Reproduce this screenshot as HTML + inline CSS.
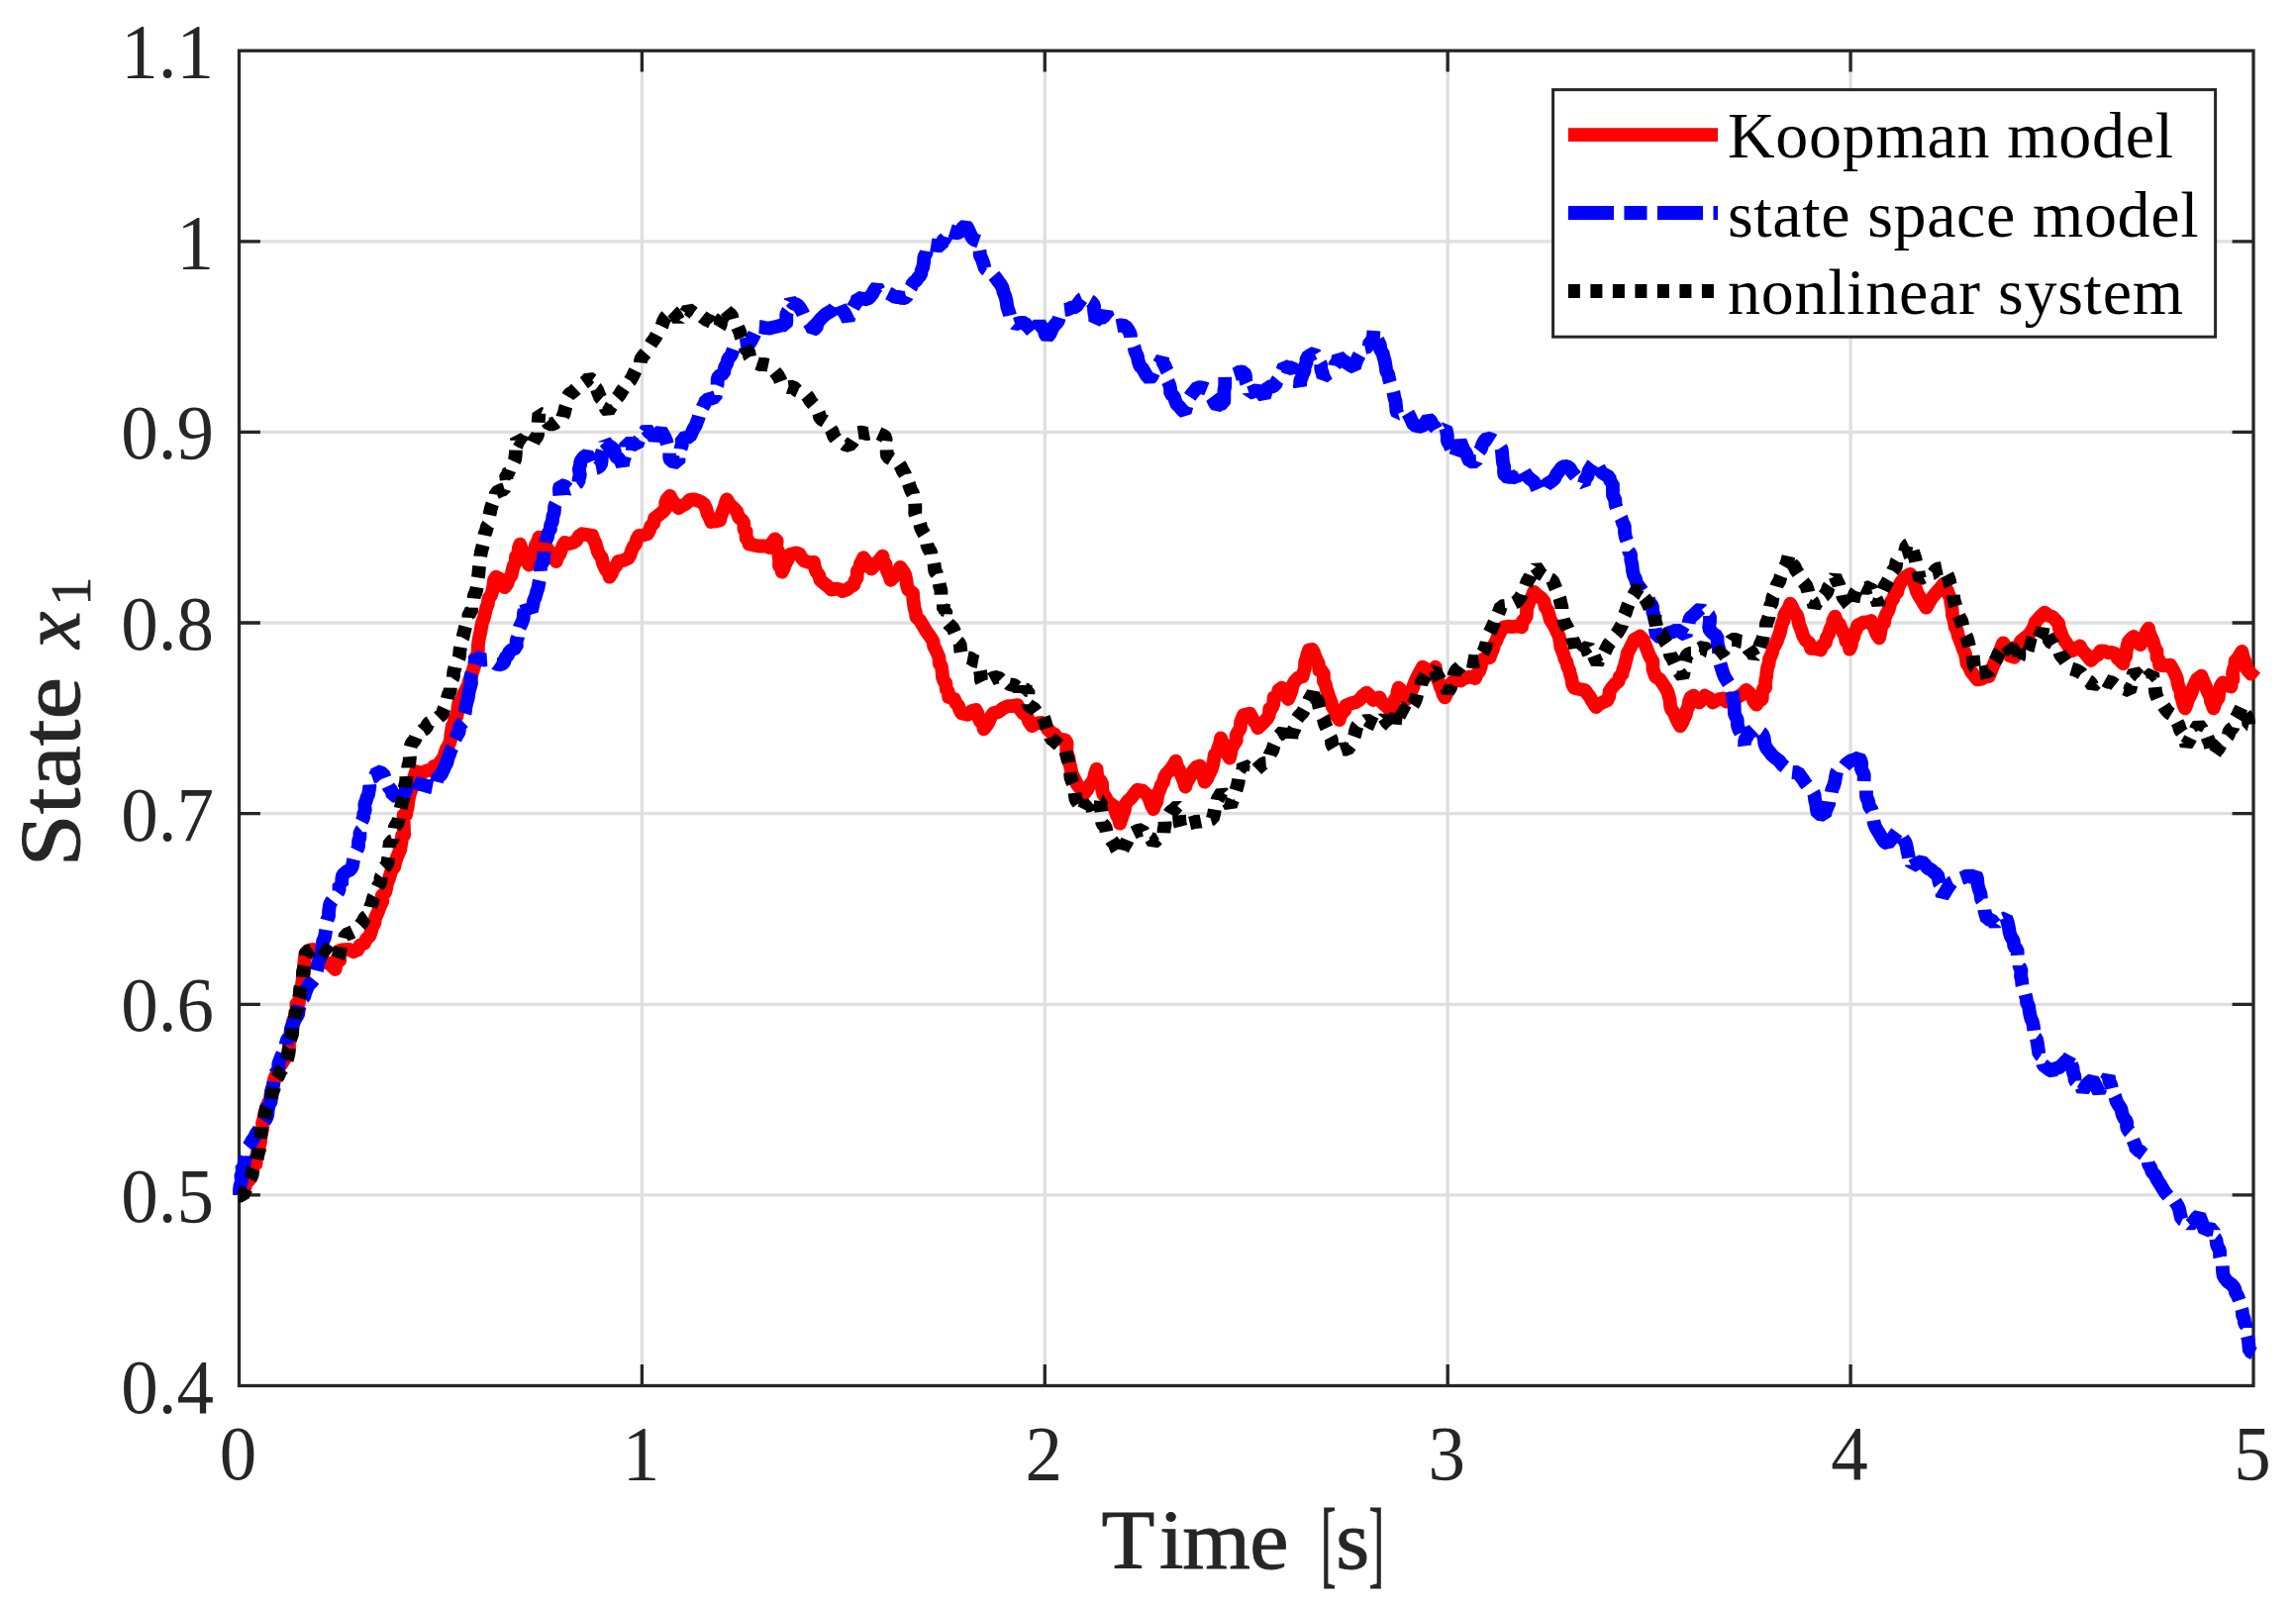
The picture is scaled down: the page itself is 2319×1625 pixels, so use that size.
<!DOCTYPE html>
<html lang="en"><head><meta charset="utf-8"><title>State x1 comparison</title>
<style>html,body{margin:0;padding:0;background:#fff}body{width:2319px;height:1625px;overflow:hidden}svg{display:block}
text{font-family:"Liberation Serif","DejaVu Serif",serif;fill:#262626}
.tk{font-size:75px}
.lg{font-size:66px;fill:#000}
.lb{font-size:84px}
</style></head><body>
<svg width="2319" height="1625" viewBox="0 0 2319 1625">
<rect width="2319" height="1625" fill="#fff"/>
<path d="M648.4 51.2 V1399.5 M1055.3 51.2 V1399.5 M1462.2 51.2 V1399.5 M1869.1 51.2 V1399.5 M241.5 243.8 H2276.0 M241.5 436.4 H2276.0 M241.5 629.0 H2276.0 M241.5 821.7 H2276.0 M241.5 1014.3 H2276.0 M241.5 1206.9 H2276.0" stroke="#dfdfdf" stroke-width="3.3" fill="none"/>
<path d="M648.4 1399.5 v-21.4 M648.4 51.2 v21.4 M1055.3 1399.5 v-21.4 M1055.3 51.2 v21.4 M1462.2 1399.5 v-21.4 M1462.2 51.2 v21.4 M1869.1 1399.5 v-21.4 M1869.1 51.2 v21.4 M241.5 243.8 h21.4 M2276.0 243.8 h-21.4 M241.5 436.4 h21.4 M2276.0 436.4 h-21.4 M241.5 629.0 h21.4 M2276.0 629.0 h-21.4 M241.5 821.7 h21.4 M2276.0 821.7 h-21.4 M241.5 1014.3 h21.4 M2276.0 1014.3 h-21.4 M241.5 1206.9 h21.4 M2276.0 1206.9 h-21.4" stroke="#262626" stroke-width="3.3" fill="none"/>
<rect x="241.5" y="51.2" width="2034.5" height="1348.3" fill="none" stroke="#262626" stroke-width="3.3"/>
<path d="M242.0 1207.0 L244.4 1203.0 L247.3 1199.6 L248.8 1194.5 L252.0 1191.5 L254.0 1187.0 L255.1 1182.1 L256.3 1177.5 L258.5 1175.6 L258.9 1168.8 L260.0 1164.0 L260.8 1159.9 L262.0 1156.9 L263.0 1153.3 L263.2 1148.0 L264.0 1144.0 L265.1 1140.3 L265.1 1134.1 L266.2 1130.4 L267.0 1125.9 L268.0 1122.0 L269.4 1117.4 L271.3 1113.3 L274.0 1110.0 L273.9 1103.1 L275.4 1099.7 L276.2 1094.8 L277.0 1090.0 L278.6 1086.1 L280.5 1082.5 L281.6 1078.2 L284.0 1075.0 L286.3 1071.3 L288.8 1067.8 L291.0 1064.0 L292.0 1060.2 L291.9 1053.7 L293.0 1050.0 L293.8 1045.3 L294.0 1039.1 L295.8 1036.8 L295.9 1030.5 L298.0 1029.0 L298.1 1023.1 L300.2 1022.0 L299.4 1013.9 L301.7 1013.3 L302.3 1008.6 L303.0 1004.0 L303.6 999.1 L304.7 995.5 L305.5 991.1 L306.0 986.0 L307.1 982.4 L307.1 976.1 L307.5 970.9 L308.1 966.1 L309.0 962.0 L312.3 959.6 L316.0 959.0 L319.0 962.2 L322.3 965.0 L324.6 969.5 L328.0 972.0 L332.1 972.8 L335.4 975.8 L338.7 979.0 L339.5 973.9 L340.1 968.5 L343.3 969.8 L342.4 960.3 L344.8 959.5 L348.9 959.2 L353.0 959.0 L357.1 961.2 L361.2 959.5 L363.5 954.6 L367.8 952.9 L370.1 948.2 L373.5 945.0 L375.0 940.5 L376.2 935.9 L378.4 931.9 L379.1 926.9 L381.1 922.8 L382.7 918.4 L384.3 914.2 L386.4 910.3 L385.8 904.6 L389.1 901.5 L390.2 896.9 L390.9 892.2 L392.7 888.0 L394.0 883.6 L395.5 879.1 L398.2 875.5 L399.3 870.6 L400.8 866.1 L402.6 861.8 L404.4 857.5 L405.0 853.1 L405.7 848.9 L406.1 843.9 L408.2 843.2 L407.9 836.6 L407.7 829.9 L407.6 823.5 L410.1 823.0 L410.8 818.5 L411.8 814.7 L412.3 809.5 L413.1 805.3 L414.2 800.8 L415.6 797.0 L417.1 793.5 L417.6 787.3 L418.8 783.1 L420.1 779.2 L425.4 780.6 L430.5 778.6 L435.7 777.5 L438.4 773.8 L442.6 773.0 L445.1 768.9 L447.9 765.3 L449.4 760.7 L450.9 756.2 L453.3 752.4 L454.9 747.9 L455.3 742.6 L456.1 737.9 L456.8 733.3 L458.3 730.5 L459.5 725.3 L461.6 722.9 L462.3 716.4 L463.2 710.5 L465.3 707.9 L467.3 704.1 L468.8 699.8 L470.9 696.0 L472.8 692.1 L473.9 687.5 L475.7 683.5 L477.1 679.0 L478.5 674.5 L480.0 670.0 L480.1 664.1 L481.7 661.6 L482.8 657.8 L482.9 651.9 L483.5 647.1 L484.4 642.3 L485.5 637.7 L486.2 632.6 L487.3 628.0 L488.7 624.5 L489.9 619.4 L491.1 614.3 L492.7 610.3 L493.5 604.3 L495.7 601.8 L497.2 597.5 L498.3 592.3 L499.0 586.0 L500.9 582.7 L504.7 584.7 L506.7 589.6 L509.6 593.1 L512.4 589.6 L513.9 584.7 L516.6 581.0 L517.6 575.9 L518.8 571.3 L520.6 568.4 L521.1 561.9 L523.3 559.8 L523.9 553.7 L525.3 549.6 L526.6 554.1 L528.8 558.0 L530.6 562.1 L532.9 565.8 L534.0 570.5 L535.2 566.3 L536.8 562.5 L538.8 558.8 L540.1 554.7 L541.1 550.4 L543.1 546.8 L544.4 542.7 L546.5 546.7 L549.4 549.6 L552.0 552.9 L554.5 556.4 L556.5 560.5 L559.1 563.8 L561.8 567.0 L563.1 562.8 L565.5 559.5 L566.8 555.3 L568.4 551.4 L570.5 547.9 L574.9 549.1 L579.2 547.9 L582.4 545.6 L584.7 541.6 L587.9 539.2 L593.1 540.1 L598.3 540.9 L599.5 544.9 L601.4 548.4 L602.6 552.4 L603.6 556.5 L605.3 560.1 L607.8 563.1 L608.6 567.8 L610.2 571.7 L612.0 575.4 L614.6 578.4 L615.7 582.7 L618.0 578.9 L619.7 574.4 L622.5 571.2 L624.4 567.0 L629.7 565.9 L634.9 563.6 L636.7 559.9 L638.0 555.7 L639.8 552.0 L642.2 548.8 L643.2 544.3 L645.3 540.9 L649.7 540.5 L654.0 539.2 L656.0 535.5 L657.4 531.2 L660.3 528.4 L661.0 523.5 L665.4 520.1 L669.7 516.6 L672.4 513.5 L672.2 507.9 L673.8 503.9 L676.6 500.9 L679.1 505.5 L682.1 509.4 L685.3 513.1 L689.1 510.7 L693.1 508.7 L696.6 504.9 L701.0 504.4 L704.6 505.6 L708.2 506.9 L711.4 509.6 L713.3 513.9 L714.5 518.6 L716.6 522.7 L718.4 527.0 L722.8 526.5 L727.1 525.3 L728.2 520.9 L729.7 516.8 L731.4 512.8 L732.6 508.5 L734.1 504.4 L737.1 509.5 L741.0 513.1 L744.3 516.7 L746.0 522.3 L749.7 525.3 L751.3 528.1 L751.5 534.8 L753.6 536.5 L753.6 543.6 L755.5 545.7 L756.7 549.6 L761.3 550.6 L765.9 551.5 L770.6 551.4 L774.2 551.6 L777.6 553.1 L779.8 548.2 L782.8 544.4 L784.7 546.1 L783.9 554.2 L785.7 556.1 L786.5 560.3 L787.1 565.2 L787.0 571.8 L789.7 571.5 L789.7 577.7 L791.8 573.4 L793.6 568.7 L796.0 564.6 L797.8 560.0 L804.2 558.3 L807.5 559.7 L809.7 563.4 L812.3 566.4 L817.1 568.0 L822.0 568.0 L822.9 573.0 L824.5 577.4 L827.3 581.1 L828.5 585.8 L832.2 589.1 L836.1 592.2 L839.8 595.5 L843.7 594.7 L847.4 595.1 L851.1 597.1 L855.1 595.6 L858.7 593.0 L862.4 590.7 L863.6 586.3 L865.6 583.9 L865.8 576.8 L867.9 574.6 L868.9 569.7 L870.5 566.5 L872.1 563.2 L874.8 566.9 L877.3 571.0 L880.2 574.5 L883.1 571.4 L886.0 568.2 L888.8 565.0 L891.5 561.6 L891.9 566.2 L894.3 569.6 L895.1 574.0 L896.6 577.9 L898.4 581.7 L899.6 585.8 L902.3 583.1 L904.1 578.8 L907.3 576.8 L909.3 572.9 L913.0 578.0 L914.5 581.4 L915.4 586.1 L916.1 591.5 L917.3 595.5 L922.0 599.0 L922.3 604.7 L922.9 609.6 L923.6 614.4 L924.8 618.0 L925.4 623.0 L929.0 626.5 L931.9 631.1 L934.5 635.8 L937.4 640.0 L940.4 644.2 L942.5 647.9 L943.2 652.7 L945.2 656.4 L946.9 660.4 L948.4 663.8 L948.8 670.1 L950.7 672.5 L951.6 677.7 L952.0 683.8 L953.3 687.9 L955.3 689.9 L955.7 696.0 L957.6 698.2 L958.2 704.0 L964.0 706.0 L965.4 709.9 L967.9 712.8 L969.2 716.7 L971.1 720.2 L977.6 721.8 L981.2 718.1 L985.6 716.9 L987.4 720.6 L988.4 725.0 L990.2 728.7 L992.9 731.7 L993.7 736.3 L996.5 732.8 L998.9 728.7 L1000.8 724.0 L1003.4 720.2 L1008.6 719.0 L1013.1 715.3 L1017.8 713.2 L1022.8 713.1 L1027.6 712.1 L1030.4 716.6 L1033.6 720.5 L1037.3 723.4 L1039.2 728.8 L1042.2 733.1 L1046.9 730.5 L1051.9 729.9 L1055.8 731.9 L1058.2 736.6 L1061.6 739.6 L1065.3 741.8 L1068.0 746.0 L1072.1 746.7 L1076.1 747.6 L1077.6 750.5 L1077.2 757.8 L1078.2 761.9 L1079.4 765.4 L1079.9 770.1 L1081.0 773.5 L1081.8 777.6 L1082.6 781.6 L1085.1 786.3 L1087.4 791.3 L1090.0 794.8 L1092.7 797.9 L1095.5 801.0 L1097.9 798.0 L1099.7 794.3 L1102.0 791.3 L1104.8 787.1 L1105.9 781.7 L1107.6 776.7 L1108.1 782.7 L1109.2 786.8 L1111.4 788.2 L1113.0 791.4 L1113.3 797.7 L1114.3 802.0 L1116.7 805.1 L1118.1 809.0 L1121.3 811.5 L1124.6 813.9 L1126.3 818.3 L1127.8 822.8 L1130.0 826.8 L1131.1 831.7 L1132.7 827.1 L1134.1 822.5 L1135.9 818.1 L1136.4 812.8 L1139.1 809.0 L1142.6 805.8 L1145.7 801.7 L1148.8 797.7 L1154.0 798.6 L1158.5 802.6 L1160.5 805.9 L1161.7 809.9 L1163.1 813.7 L1165.0 817.1 L1166.3 813.2 L1168.2 809.8 L1168.9 805.5 L1169.6 801.3 L1171.4 797.7 L1172.7 793.4 L1175.0 789.9 L1176.0 785.4 L1177.9 781.6 L1180.7 778.9 L1183.2 775.8 L1185.4 772.3 L1187.6 768.7 L1188.7 773.4 L1190.9 777.2 L1192.5 781.6 L1194.3 785.7 L1196.0 790.0 L1197.3 794.5 L1198.6 789.8 L1201.1 786.2 L1202.9 781.9 L1205.4 778.3 L1208.2 774.8 L1211.8 773.5 L1213.0 777.7 L1214.0 782.2 L1215.6 785.2 L1216.7 789.7 L1219.3 786.3 L1221.2 782.0 L1223.2 778.0 L1224.8 773.5 L1225.9 768.1 L1226.8 762.3 L1229.2 760.2 L1230.4 755.2 L1232.0 751.1 L1233.0 745.5 L1234.6 749.7 L1236.0 754.1 L1238.5 757.4 L1239.9 761.9 L1242.0 765.6 L1243.1 760.8 L1243.9 755.8 L1246.3 751.8 L1248.7 747.9 L1248.7 742.3 L1251.0 738.3 L1252.7 735.6 L1253.1 729.4 L1254.5 725.7 L1255.9 722.2 L1262.3 720.6 L1264.3 724.2 L1266.3 728.0 L1268.8 731.0 L1270.4 735.1 L1273.7 732.0 L1277.0 728.9 L1280.1 725.4 L1281.8 722.3 L1282.3 716.0 L1284.7 714.8 L1286.2 711.1 L1286.6 704.4 L1290.2 702.7 L1291.4 697.1 L1294.6 694.7 L1296.7 698.6 L1299.7 701.3 L1301.1 706.0 L1302.9 701.7 L1304.6 697.3 L1305.4 692.3 L1307.6 688.3 L1311.2 684.5 L1315.6 683.4 L1316.7 679.1 L1317.9 675.1 L1318.2 668.9 L1319.4 665.0 L1320.5 660.8 L1322.0 656.6 L1325.3 655.9 L1327.2 659.3 L1328.5 663.3 L1330.1 666.9 L1331.8 670.5 L1332.4 676.9 L1335.0 677.6 L1336.9 680.5 L1337.0 688.3 L1338.8 691.2 L1339.9 696.3 L1341.4 700.6 L1342.8 705.0 L1344.5 709.1 L1345.7 713.6 L1348.0 717.3 L1349.8 722.7 L1352.8 727.0 L1353.7 722.7 L1356.0 719.7 L1358.6 716.9 L1359.3 712.5 L1364.1 710.5 L1369.0 709.3 L1373.1 706.8 L1376.5 702.8 L1380.3 699.6 L1383.8 703.0 L1387.0 707.0 L1393.2 704.4 L1395.3 708.6 L1398.2 711.5 L1401.3 714.1 L1403.7 716.9 L1406.0 720.0 L1407.5 716.9 L1407.6 709.9 L1408.9 706.4 L1410.8 704.3 L1411.5 699.0 L1412.6 694.7 L1415.7 697.8 L1417.8 702.5 L1420.7 706.0 L1422.8 702.1 L1425.3 698.5 L1427.1 694.4 L1428.7 689.9 L1430.6 685.7 L1432.5 681.6 L1434.7 677.7 L1436.8 673.7 L1440.0 675.7 L1443.0 678.0 L1446.7 677.1 L1449.7 673.7 L1450.2 680.5 L1451.5 685.1 L1453.2 688.7 L1454.6 693.1 L1456.3 696.8 L1457.4 701.0 L1459.4 704.4 L1461.3 700.2 L1463.6 696.5 L1464.7 691.6 L1467.5 688.3 L1471.2 686.8 L1475.2 687.5 L1478.8 685.0 L1482.6 684.0 L1486.3 683.5 L1490.1 685.0 L1491.6 681.1 L1494.1 677.9 L1495.6 673.9 L1496.4 669.3 L1498.2 665.6 L1504.7 664.0 L1506.1 659.6 L1507.9 655.6 L1509.1 651.1 L1511.2 647.2 L1512.8 643.0 L1514.8 639.6 L1516.5 635.7 L1519.2 633.3 L1523.7 632.7 L1528.1 633.0 L1532.5 632.4 L1537.0 633.3 L1537.8 627.4 L1540.0 625.4 L1541.8 622.2 L1542.1 614.9 L1543.5 610.7 L1545.2 606.2 L1547.5 602.3 L1549.1 597.8 L1552.7 600.9 L1556.4 603.7 L1559.6 607.5 L1560.5 612.5 L1563.1 616.3 L1564.5 620.9 L1565.7 625.7 L1568.2 629.6 L1570.6 633.7 L1572.6 638.3 L1574.7 642.6 L1575.6 647.9 L1576.3 653.5 L1577.8 657.0 L1579.2 660.8 L1580.4 665.3 L1582.4 668.8 L1583.2 673.2 L1585.0 676.8 L1586.0 681.1 L1587.4 685.5 L1588.2 691.4 L1590.0 694.7 L1595.4 696.0 L1600.8 697.0 L1603.1 700.3 L1605.6 703.4 L1607.6 707.2 L1609.8 710.7 L1612.1 714.0 L1615.6 710.9 L1619.5 709.0 L1623.4 707.2 L1625.3 703.3 L1625.6 698.3 L1627.9 694.7 L1631.1 691.0 L1634.7 687.9 L1635.7 683.7 L1638.5 680.9 L1639.3 676.6 L1640.7 673.1 L1641.8 668.7 L1642.9 664.3 L1643.8 659.6 L1646.2 655.2 L1648.5 650.7 L1650.6 646.0 L1656.3 642.6 L1659.8 646.3 L1661.9 651.7 L1663.7 656.3 L1665.4 661.0 L1667.6 665.3 L1669.4 668.1 L1669.4 675.4 L1670.7 679.7 L1672.1 683.4 L1676.6 686.3 L1680.0 691.3 L1682.5 695.1 L1684.6 699.3 L1685.6 703.2 L1686.6 707.2 L1687.0 712.5 L1688.0 716.3 L1690.8 719.9 L1692.6 724.6 L1694.7 729.1 L1697.0 733.2 L1699.2 729.8 L1700.8 725.7 L1702.7 721.9 L1703.7 717.1 L1705.3 713.7 L1706.1 708.3 L1707.6 704.3 L1710.6 702.7 L1713.1 706.7 L1716.3 709.5 L1719.0 705.9 L1721.9 702.7 L1726.3 705.1 L1729.9 709.5 L1733.2 707.4 L1736.7 706.1 L1740.3 705.5 L1743.4 708.3 L1747.7 705.2 L1752.5 706.1 L1755.8 703.5 L1759.3 701.5 L1763.8 697.0 L1766.9 699.9 L1769.5 703.8 L1771.4 708.1 L1774.0 711.7 L1776.5 708.3 L1779.7 706.1 L1779.9 700.0 L1780.9 695.9 L1783.1 694.5 L1783.1 687.9 L1784.0 683.7 L1784.5 678.7 L1785.2 674.0 L1786.5 671.0 L1787.1 665.4 L1788.7 662.3 L1790.1 658.8 L1791.0 654.0 L1793.2 650.8 L1794.9 647.1 L1796.2 643.1 L1797.8 639.3 L1798.8 634.0 L1800.1 629.2 L1801.8 625.8 L1802.3 620.9 L1804.5 617.4 L1806.8 613.9 L1808.2 609.7 L1810.4 613.6 L1812.1 617.9 L1814.9 621.2 L1816.3 625.8 L1817.1 631.0 L1818.6 634.3 L1819.9 638.0 L1821.1 642.0 L1823.6 646.5 L1827.4 649.4 L1829.2 654.9 L1834.1 655.1 L1838.9 656.5 L1840.5 652.1 L1843.8 649.3 L1844.9 644.3 L1847.0 640.4 L1848.4 635.8 L1850.7 631.8 L1851.4 626.7 L1853.5 622.6 L1854.9 627.3 L1857.8 630.3 L1859.5 634.6 L1861.5 638.7 L1863.6 642.6 L1864.4 647.5 L1867.5 650.7 L1868.1 655.7 L1869.8 651.9 L1870.4 647.4 L1872.2 643.6 L1873.0 639.2 L1875.0 635.6 L1876.2 631.5 L1879.4 630.1 L1882.6 628.3 L1886.4 628.2 L1890.0 627.0 L1891.9 631.5 L1893.7 636.0 L1895.5 640.5 L1898.0 644.4 L1899.0 639.9 L1899.8 634.8 L1901.0 630.7 L1903.1 629.1 L1903.8 623.7 L1905.2 620.2 L1907.3 616.7 L1908.5 612.5 L1909.6 608.2 L1912.1 605.0 L1913.3 600.8 L1916.2 598.1 L1917.3 593.4 L1919.0 589.4 L1921.4 586.2 L1925.2 582.3 L1929.5 579.8 L1930.7 584.3 L1933.0 588.0 L1934.5 592.3 L1935.7 596.8 L1937.6 600.8 L1940.3 605.1 L1942.9 609.5 L1945.6 613.7 L1948.1 609.1 L1950.7 604.8 L1953.7 600.8 L1957.0 597.1 L1960.2 593.4 L1963.4 589.5 L1964.8 593.4 L1966.9 596.5 L1968.1 600.5 L1969.9 604.0 L1970.4 608.7 L1971.2 612.4 L1971.7 617.1 L1972.1 621.8 L1973.2 625.0 L1974.0 629.0 L1974.7 633.1 L1976.8 637.3 L1977.8 642.3 L1979.6 646.6 L1981.3 651.1 L1982.8 655.7 L1984.8 659.9 L1985.8 664.9 L1986.5 670.1 L1989.1 673.9 L1990.9 678.3 L1994.1 682.4 L1997.3 686.4 L2001.2 685.8 L2004.8 683.7 L2008.7 683.2 L2010.7 678.8 L2012.4 674.0 L2014.4 669.6 L2016.7 665.4 L2018.4 661.5 L2020.1 657.4 L2021.5 653.3 L2023.2 649.3 L2025.7 653.2 L2027.4 658.0 L2029.7 662.2 L2034.5 663.8 L2035.6 659.3 L2038.1 656.0 L2039.2 651.5 L2041.0 647.6 L2045.0 644.4 L2049.0 641.2 L2051.8 637.6 L2054.1 633.4 L2055.7 628.4 L2058.7 625.0 L2061.9 621.6 L2065.2 618.6 L2068.9 621.6 L2073.0 623.0 L2076.5 626.6 L2079.2 629.6 L2079.8 634.3 L2081.4 638.2 L2082.8 642.3 L2084.6 646.0 L2087.3 649.8 L2089.9 653.6 L2092.7 657.3 L2096.8 655.1 L2100.8 652.5 L2103.1 657.0 L2106.3 660.0 L2109.1 663.7 L2112.1 667.0 L2115.2 663.5 L2119.0 661.3 L2121.8 657.3 L2125.6 657.7 L2129.3 659.2 L2133.1 659.0 L2136.7 660.3 L2138.7 664.8 L2141.6 667.4 L2144.4 670.3 L2145.2 665.4 L2147.1 663.1 L2147.7 657.7 L2148.5 652.6 L2149.6 648.4 L2152.1 645.3 L2155.0 642.9 L2157.7 648.2 L2161.9 651.1 L2164.3 647.3 L2166.3 643.2 L2167.7 638.5 L2170.1 634.7 L2170.9 639.2 L2172.6 643.1 L2174.4 646.9 L2175.6 651.1 L2176.7 655.1 L2178.5 657.3 L2178.5 664.2 L2180.4 666.1 L2181.0 671.6 L2186.5 672.4 L2192.0 671.6 L2194.5 676.0 L2196.8 680.5 L2198.8 685.3 L2199.6 690.2 L2200.7 694.5 L2202.4 697.3 L2202.9 703.1 L2204.3 707.2 L2205.3 711.5 L2207.0 715.4 L2208.6 711.2 L2209.8 706.7 L2212.0 703.0 L2213.8 699.0 L2215.1 694.3 L2217.0 690.1 L2219.0 686.0 L2223.4 682.6 L2225.2 687.2 L2227.1 691.6 L2228.9 696.2 L2230.4 700.0 L2232.4 703.3 L2232.8 707.8 L2234.4 711.5 L2235.7 715.4 L2236.9 711.5 L2238.5 707.9 L2240.7 704.7 L2241.2 700.3 L2241.9 696.2 L2243.0 692.5 L2245.0 689.4 L2249.1 692.1 L2253.5 693.5 L2253.8 688.3 L2255.5 686.3 L2255.1 679.4 L2256.0 675.6 L2257.3 672.8 L2257.6 667.5 L2260.2 664.8 L2262.3 661.4 L2264.4 657.9 L2265.4 662.9 L2266.9 666.6 L2268.2 670.7 L2269.2 675.7 L2273.3 680.5 L2275.6 677.6 L2278.1 675.0" fill="none" stroke="#ff0000" stroke-width="13.8" stroke-linejoin="round" stroke-linecap="butt"/>
<path d="M242.0 1207.0 L242.0 1201.2 L242.6 1196.8 L244.1 1194.4 L243.3 1186.6 L244.9 1184.6 L244.5 1177.7 L246.7 1177.1 L246.9 1171.6 L248.1 1168.5 L248.0 1162.5 L250.0 1158.9 L252.5 1156.0 L254.4 1152.2 L256.7 1149.0 L258.8 1144.7 L261.7 1141.3 L263.5 1136.7 L266.4 1133.3 L269.0 1129.6 L270.2 1126.1 L270.7 1120.9 L271.4 1116.0 L273.5 1114.7 L273.3 1107.8 L273.9 1102.7 L275.0 1099.0 L276.1 1095.1 L276.8 1090.1 L278.0 1086.2 L279.0 1082.1 L281.2 1080.9 L281.3 1074.3 L282.8 1070.2 L284.5 1066.2 L286.2 1062.2 L288.4 1058.6 L288.9 1053.7 L290.2 1049.5 L293.2 1046.5 L293.6 1041.5 L294.6 1036.5 L296.7 1032.4 L298.8 1028.2 L301.2 1024.3 L301.8 1019.0 L303.1 1014.5 L304.1 1009.8 L307.2 1006.9 L308.4 1002.3 L310.1 998.3 L312.0 994.3 L315.2 991.5 L318.0 988.0 L319.2 983.7 L320.3 979.2 L321.0 973.7 L322.3 969.7 L324.0 966.6 L325.1 962.2 L325.4 955.7 L326.2 950.4 L327.8 947.2 L328.7 942.2 L329.5 936.9 L329.7 931.6 L330.6 928.2 L332.0 925.8 L332.1 920.4 L332.7 916.0 L333.5 912.3 L335.9 909.2 L338.0 905.8 L340.3 902.5 L342.6 899.3 L342.5 893.0 L345.2 893.6 L345.3 887.8 L346.1 883.6 L349.8 880.3 L354.0 878.4 L355.8 875.3 L356.7 870.1 L357.9 865.4 L359.2 861.0 L360.6 858.1 L362.0 855.4 L362.1 849.1 L363.4 846.2 L363.5 840.1 L365.7 838.2 L365.3 829.6" fill="none" stroke="#0000ff" stroke-width="13.8" stroke-linejoin="bevel" stroke-linecap="butt" stroke-dasharray="42.60 9.66 21.30 9.66"/>
<path d="M365.3 829.6 L365.3 829.6 L367.0 826.2 L367.4 821.4 L368.8 818.7 L368.3 811.7 L369.7 809.2 L370.5 805.3 L372.0 802.9 L372.7 798.6 L373.4 794.0 L373.0 787.0 L374.8 785.3 L378.7 783.9 L380.9 779.2 L387.0 781.0 L388.7 785.7 L390.5 790.3 L392.5 794.8 L395.5 798.4 L396.6 803.6 L401.6 803.9 L406.1 807.0 L406.9 802.8 L409.8 800.0 L409.9 795.3 L411.6 791.6 L413.1 787.9 L417.1 789.0 L420.9 791.0 L424.8 792.3 L428.8 793.1 L434.0 794.7 L439.2 795.7 L440.8 790.6 L442.1 785.2 L445.8 782.1 L447.9 777.5 L449.5 773.7 L451.5 770.1 L452.4 765.7 L454.0 761.8 L455.6 757.0 L458.0 752.9 L459.0 747.6 L461.2 743.3 L463.6 739.2 L464.2 733.7 L466.0 731.1 L468.0 729.1 L468.4 723.2 L469.4 720.5" fill="none" stroke="#0000ff" stroke-width="13.8" stroke-linejoin="bevel" stroke-linecap="butt" stroke-dasharray="39.08 8.86 19.54 8.86"/>
<path d="M469.4 720.5 L469.7 719.5 L470.4 714.1 L471.4 709.6 L472.7 705.0 L473.5 699.2 L474.7 694.6 L476.0 690.0 L475.5 682.7 L476.7 679.5 L477.4 674.9 L479.1 672.8 L479.7 668.0 L480.0 662.7 L483.9 665.0 L487.9 666.5 L492.2 666.2 L496.9 667.6 L501.3 670.7 L506.1 671.4 L509.1 669.0 L510.4 664.4 L513.1 661.6 L514.8 657.5 L518.3 655.6 L521.8 654.0 L521.6 647.0 L523.0 643.7 L523.5 638.4 L524.8 633.5 L527.0 629.2 L528.7 624.5 L528.9 619.6 L529.8 616.2 L529.0 609.1 L530.5 607.1 L531.8 611.5 L534.3 614.4 L537.0 617.0 L538.1 611.8 L539.1 606.4 L540.8 602.8 L542.0 598.0 L543.4 594.1 L544.3 589.1 L545.3 584.4 L546.1 579.2 L545.8 572.7 L546.9 569.5 L548.9 568.2 L549.0 562.8 L549.6 558.3 L549.7 552.5 L550.9 549.4 L551.1 547.9" fill="none" stroke="#0000ff" stroke-width="13.8" stroke-linejoin="bevel" stroke-linecap="butt" stroke-dasharray="41.87 9.49 20.94 9.49"/>
<path d="M551.1 547.9 L551.5 544.8 L553.1 542.7 L553.6 537.3 L555.8 535.8 L556.1 529.9 L557.8 527.4 L558.3 521.8 L559.7 517.7 L560.2 511.1 L561.9 507.9 L563.5 504.4 L565.5 502.3 L564.8 493.9 L566.0 490.0 L570.2 491.0 L574.0 494.0 L577.8 492.7 L581.0 489.4 L584.4 487.0 L584.8 482.8 L585.9 480.3 L584.6 472.5 L586.1 470.7 L586.2 466.1 L589.3 461.9 L593.1 459.2 L596.1 463.2 L598.1 468.1 L600.1 473.1 L603.8 472.4 L607.0 469.6 L607.7 464.7 L607.7 458.0 L608.8 454.1 L611.0 452.5 L611.0 446.0 L614.2 449.8 L618.0 452.0 L620.7 455.1 L621.3 460.6 L624.7 462.8 L627.2 466.1 L628.9 470.4 L629.5 465.7 L630.7 462.5 L631.6 458.7 L632.0 453.5 L632.1 447.8 L635.9 447.9 L639.7 448.3 L643.4 449.4 L645.2 444.6 L648.2 441.3 L650.4 437.0 L653.1 433.3 L655.7 436.7 L659.0 438.9 L661.2 443.0 L664.2 438.6 L667.6 434.9 L669.6 438.2 L671.4 441.6 L673.0 445.3 L674.1 449.4 L675.4 452.2 L676.3 456.1 L676.2 462.2 L677.3 465.6 L681.3 466.5 L685.4 467.2 L685.4 460.8 L687.0 458.1 L687.5 453.0 L688.8 449.5 L688.7 443.0 L692.7 442.0 L696.7 441.4 L698.6 437.4 L700.4 433.2 L702.7 429.6 L704.0 426.0 L705.4 422.5 L706.4 418.7 L708.1 415.1 L709.5 411.3 L711.5 408.1 L712.9 404.2 L717.8 402.7 L722.6 401.0 L723.4 397.1 L723.4 391.5 L724.6 388.6 L724.7 383.0 L725.8 380.0 L731.0 377.0 L732.1 371.0 L734.1 367.3 L735.5 362.2 L738.6 358.9 L740.3 354.1 L742.0 349.3 L746.8 348.7 L751.7 348.0 L756.5 347.6 L759.0 343.6 L761.2 339.3 L763.1 334.8 L764.6 329.9 L768.9 330.2 L773.2 331.2 L777.5 331.5 L781.5 330.4 L785.6 329.6 L789.6 328.2 L793.7 328.3 L794.4 323.9 L794.2 317.6 L795.5 314.7 L797.1 312.6 L797.2 306.9 L798.5 304.0 L801.5 306.8 L805.2 307.6 L808.0 311.0 L810.4 315.0 L812.3 319.5 L814.7 323.4 L817.3 326.0 L819.3 329.5 L821.1 333.1 L824.5 331.4 L825.7 326.2 L828.1 323.0 L830.8 320.2 L834.4 317.0 L838.3 314.8 L842.1 312.1 L844.5 308.8 L847.0 305.6 L848.5 309.6 L850.5 313.1 L853.0 316.1 L854.9 319.7 L856.7 323.4 L858.0 318.3 L859.9 313.8 L862.2 309.5 L864.8 305.6 L866.4 300.8 L871.2 301.7 L876.1 302.4 L878.9 299.7 L881.3 296.5 L883.3 292.6 L885.8 289.5 L887.9 293.3 L891.3 293.7 L895.7 295.4 L900.0 297.5 L904.2 300.2 L908.0 299.8 L911.7 301.4 L915.5 300.2 L917.1 296.5 L918.4 292.6 L920.6 289.4 L922.0 285.6 L925.1 283.8 L927.4 280.2 L930.1 277.6 L930.8 272.8 L932.2 270.0 L933.0 265.4 L933.3 259.8 L935.4 255.8 L936.2 250.9 L938.2 246.9 L942.5 247.6 L946.8 248.0 L951.1 248.0 L951.9 243.4 L954.9 240.6 L956.0 236.3 L957.6 232.3 L961.7 233.6 L965.6 235.5 L969.6 234.6 L972.1 230.3 L975.3 227.5 L977.6 230.8 L979.4 234.7 L981.1 238.7 L983.4 242.0 L989.0 244.0 L988.9 249.6 L989.6 253.4 L989.9 258.2 L991.9 262.2 L993.4 266.6 L994.7 271.1 L998.7 273.7 L1002.6 276.8 L1003.8 278.2" fill="none" stroke="#0000ff" stroke-width="13.8" stroke-linejoin="bevel" stroke-linecap="butt" stroke-dasharray="42.00 9.52 21.00 9.52"/>
<path d="M1003.8 278.2 L1006.0 280.8 L1008.2 284.0 L1010.5 287.0 L1012.5 290.5 L1013.7 295.4 L1015.3 299.2 L1016.5 304.0 L1017.3 309.9 L1018.5 313.4 L1019.7 317.0 L1020.6 321.2 L1022.5 325.1 L1025.4 327.6 L1030.1 325.9 L1035.0 326.0 L1037.7 329.4 L1040.5 332.4 L1043.2 335.7 L1044.8 331.7 L1047.8 329.6 L1049.7 326.0 L1051.6 329.7 L1054.6 332.3 L1055.4 337.2 L1057.7 340.6 L1060.8 336.8 L1062.8 331.5 L1065.8 327.6 L1068.6 324.8 L1069.9 320.4 L1071.4 316.2 L1073.9 313.1 L1078.3 312.6 L1082.5 310.6 L1086.8 309.9 L1089.6 305.7 L1092.5 301.9 L1096.5 300.2 L1099.2 303.0 L1102.4 304.8 L1105.0 308.0 L1105.0 312.8 L1105.4 316.6 L1106.2 319.7 L1106.2 324.4 L1109.8 321.3 L1114.3 320.5 L1117.5 316.3 L1119.2 320.6 L1122.0 323.3 L1124.9 325.8 L1127.2 329.3 L1132.1 328.3 L1136.9 329.3 L1139.5 333.1 L1141.8 337.3 L1142.2 343.9 L1144.0 346.8 L1145.5 350.3 L1146.6 355.1 L1148.8 359.6 L1149.7 364.9 L1151.4 369.7 L1154.2 372.4 L1156.2 376.2 L1158.4 379.8 L1161.1 382.6 L1163.5 380.0 L1165.1 376.3 L1167.0 373.0 L1169.2 369.0 L1171.8 365.5 L1174.1 361.6 L1174.5 366.0 L1176.5 369.3 L1178.0 373.0 L1179.7 376.1 L1179.3 384.6 L1180.9 387.8 L1182.1 392.3 L1182.1 397.7 L1185.6 400.2 L1187.0 404.3 L1188.6 408.4 L1191.4 410.9 L1193.9 414.1 L1196.7 416.5 L1198.0 411.8 L1199.2 407.1 L1200.7 402.5 L1203.2 398.7 L1206.4 394.8 L1209.6 391.0 L1213.5 391.4 L1217.3 392.3 L1221.0 393.8 L1222.1 398.8 L1224.7 402.2 L1226.6 406.4 L1229.1 409.9 L1232.5 408.0 L1236.0 407.0 L1236.4 403.0 L1236.3 398.0 L1236.5 393.7 L1237.2 390.3 L1237.3 385.8 L1237.2 380.8 L1241.0 380.0 L1244.8 378.8 L1248.5 377.6 L1252.4 375.3 L1256.6 375.9 L1257.9 379.2 L1258.3 384.8 L1259.7 388.0 L1260.8 391.7 L1261.4 396.9 L1265.5 395.6 L1269.5 393.7 L1273.6 396.7 L1277.0 401.0 L1278.6 395.5 L1280.8 390.5 L1284.5 390.6 L1288.0 389.0 L1289.6 384.9 L1292.2 381.8 L1293.6 377.5 L1295.5 373.7 L1296.9 369.5 L1300.8 371.4 L1305.0 371.1 L1308.0 374.5 L1309.0 379.7 L1311.0 384.0 L1313.0 390.0 L1313.3 384.3 L1314.7 381.3 L1315.8 377.6 L1317.4 375.2 L1317.7 369.5 L1319.5 367.5 L1319.6 361.4 L1323.5 358.5 L1327.6 356.6 L1329.8 360.3 L1331.9 364.2 L1334.1 367.9 L1334.4 373.4 L1335.7 376.6 L1336.5 381.0 L1339.8 378.2 L1343.4 376.3 L1347.0 374.3 L1348.0 369.0 L1350.9 365.0 L1351.9 359.8 L1354.7 362.8 L1357.8 364.9 L1361.0 367.0 L1364.4 369.3 L1368.0 371.1 L1369.3 366.4 L1371.1 362.1 L1373.3 358.0 L1374.5 353.3 L1378.4 351.0 L1382.6 350.1 L1383.4 345.0 L1385.8 344.1 L1387.0 340.0 L1387.4 333.9 L1388.9 337.7 L1390.4 341.4 L1391.3 343.1" fill="none" stroke="#0000ff" stroke-width="13.8" stroke-linejoin="bevel" stroke-linecap="butt" stroke-dasharray="44.26 10.03 22.13 10.03"/>
<path d="M1391.3 343.1 L1392.2 344.9 L1393.9 348.5 L1394.4 354.4 L1396.5 356.0 L1397.5 360.7 L1398.7 364.6 L1399.6 369.7 L1400.3 375.5 L1402.2 377.9 L1403.1 383.1 L1404.4 387.3 L1406.0 391.5 L1407.4 396.1 L1408.4 401.8 L1409.5 405.1 L1410.0 410.0 L1410.4 415.0 L1411.7 418.0 L1416.5 416.5 L1421.4 416.3 L1423.8 420.4 L1425.8 424.8 L1427.8 429.3 L1431.8 430.4 L1435.9 430.9 L1439.4 427.3 L1442.4 422.8 L1445.3 425.3 L1447.1 429.5 L1450.1 431.9 L1452.1 435.7 L1456.2 434.8 L1460.1 432.5 L1461.1 435.7 L1461.8 439.9 L1461.8 445.4 L1464.1 449.1 L1465.8 453.5 L1468.2 457.1 L1469.8 461.6 L1471.1 457.8 L1472.3 453.7 L1473.5 449.6 L1474.7 445.4 L1476.5 449.7 L1478.2 454.2 L1480.9 457.7 L1482.5 462.2 L1484.4 466.4 L1491.0 466.0 L1492.6 461.7 L1493.2 456.6 L1495.9 453.2 L1497.3 448.7 L1499.4 445.0 L1502.1 442.2 L1507.1 444.0 L1511.8 447.0 L1514.4 450.0 L1516.7 453.5 L1517.2 458.2 L1517.6 463.0 L1518.1 467.8 L1519.2 471.1 L1519.0 477.2 L1519.9 481.0 L1523.6 481.9 L1527.5 481.7 L1531.2 482.6 L1533.4 479.4 L1535.9 476.6 L1537.7 472.9 L1539.7 476.4 L1541.7 479.8 L1544.2 482.6 L1546.9 484.8 L1549.7 486.9 L1551.4 490.8 L1553.1 494.6 L1556.2 496.6 L1559.6 493.7 L1562.1 489.0 L1565.9 486.9 L1569.8 483.9 L1572.3 478.8 L1574.8 475.7 L1577.2 472.4 L1580.4 470.7 L1585.0 472.0 L1588.0 477.0 L1590.8 480.2 L1593.5 483.5 L1596.5 486.3 L1599.8 488.5 L1601.2 484.0 L1603.7 480.3 L1604.6 475.5 L1606.7 472.3 L1608.7 468.8 L1611.1 465.9 L1613.2 469.7 L1614.5 472.0" fill="none" stroke="#0000ff" stroke-width="13.8" stroke-linejoin="bevel" stroke-linecap="butt" stroke-dasharray="46.04 10.44 23.02 10.44"/>
<path d="M1614.5 472.0 L1615.3 473.5 L1617.6 477.2 L1621.6 479.6 L1625.6 482.0 L1626.5 486.8 L1628.9 487.9 L1628.9 494.9 L1629.1 501.5 L1631.2 503.5 L1631.6 509.6 L1632.9 513.5 L1634.9 516.7 L1636.1 520.6 L1637.8 524.0 L1639.0 528.3 L1640.8 531.1 L1641.0 538.0 L1642.0 542.9 L1643.4 546.6 L1644.8 550.6 L1645.0 557.0" fill="none" stroke="#0000ff" stroke-width="13.8" stroke-linejoin="bevel" stroke-linecap="butt" stroke-dasharray="48.90 11.09 24.45 11.09"/>
<path d="M1645.0 557.0 L1645.0 557.1 L1647.0 559.3 L1647.3 565.7 L1648.4 570.2 L1648.9 576.0 L1649.9 580.6 L1652.0 584.9 L1653.4 589.9 L1656.3 593.5 L1658.8 597.1 L1661.8 599.8 L1664.4 603.2 L1666.0 608.2 L1669.0 612.2 L1669.3 618.0 L1670.4 621.1 L1671.1 625.1 L1671.3 630.2 L1671.7 634.8 L1672.4 638.7 L1673.2 642.6 L1677.8 643.0 L1682.3 641.5 L1685.9 639.0 L1689.9 638.0 L1693.6 635.9 L1698.2 638.6 L1702.7 641.5 L1703.8 637.1 L1705.0 633.1 L1705.8 628.0 L1707.0 624.0 L1710.6 621.0 L1714.1 617.6 L1717.7 614.5 L1720.5 617.8 L1723.9 619.4 L1727.0 622.0 L1727.0 627.3 L1726.0 634.7 L1727.5 637.0 L1730.8 640.3 L1734.4 642.6 L1734.6 647.5 L1734.8 652.4 L1736.3 654.4 L1735.9 660.7 L1736.7 664.2 L1737.4 670.0 L1738.7 674.5 L1740.0 678.9 L1741.8 683.5 L1744.2 687.5 L1746.8 691.3 L1747.4 696.6 L1749.4 698.1 L1750.2 702.7 L1750.5 707.3 L1751.5 710.2 L1751.7 714.9 L1751.9 720.8 L1753.2 724.0 L1754.7 726.7 L1754.9 732.7 L1756.3 736.6 L1758.2 740.1 L1758.7 744.6 L1760.7 748.0 L1762.0 752.0 L1762.3 747.3 L1764.5 743.9 L1766.0 740.0 L1769.7 738.6 L1772.9 735.5 L1776.3 738.5 L1780.0 741.0 L1781.6 745.0 L1782.4 751.4 L1784.0 755.3 L1787.0 759.0 L1789.9 762.8 L1793.4 765.7 L1796.9 768.3 L1800.0 772.3 L1803.7 775.3 L1806.6 779.6 L1811.3 780.1 L1816.0 780.0 L1818.4 783.7 L1821.0 787.1 L1823.3 790.8 L1826.0 794.1 L1829.7 797.4 L1832.5 802.2 L1833.1 807.8 L1834.2 812.1 L1834.9 817.5 L1836.0 822.0 L1839.5 822.4 L1843.0 823.0 L1844.1 818.5 L1845.7 815.1 L1847.2 811.6 L1847.9 806.1 L1849.5 802.8 L1850.3 797.2 L1851.9 794.1 L1853.2 789.8 L1854.0 784.5 L1855.1 779.6 L1857.9 775.9 L1861.9 775.1 L1864.8 771.5 L1868.9 768.5 L1873.4 767.2 L1877.7 765.0 L1879.2 767.5 L1880.2 771.0 L1879.8 777.9 L1881.6 779.5 L1882.8 782.8 L1882.6 789.3 L1883.5 794.2 L1885.0 797.7 L1885.0 804.6 L1887.0 809.1 L1888.0 814.4 L1890.7 818.3 L1891.7 821.9 L1892.1 826.8 L1892.8 831.1 L1893.9 834.5 L1896.0 838.4 L1898.3 842.0 L1900.4 845.8 L1903.1 850.1 L1906.8 852.3 L1909.2 849.0 L1911.8 846.1 L1914.1 842.7 L1916.5 839.4 L1919.7 842.4 L1921.8 847.1 L1924.6 850.7 L1925.7 854.8 L1926.5 859.6 L1927.5 863.7 L1928.2 868.8 L1930.9 868.5 L1931.1 874.9 L1935.9 872.0 L1941.0 870.0 L1944.2 873.2 L1947.0 877.0 L1950.5 878.3 L1953.5 881.4 L1956.9 883.0 L1957.9 887.4 L1958.8 892.2 L1960.6 894.6 L1961.3 899.9 L1961.8 905.6 L1964.1 902.0 L1966.4 898.2 L1968.7 894.5 L1971.3 891.3 L1975.0 889.6 L1978.8 887.8 L1982.6 886.5 L1986.8 884.4 L1991.4 885.9 L1995.5 883.2 L1997.0 887.2 L1997.6 893.7 L1998.9 898.5 L2000.4 902.6 L2001.0 908.1 L2002.8 910.5 L2004.1 914.3 L2004.5 920.4 L2005.7 924.5 L2006.9 928.5 L2011.5 928.9 L2014.9 933.3 L2018.0 928.9 L2022.3 928.6 L2026.2 926.9 L2027.6 931.2 L2028.8 936.2 L2029.7 941.9 L2031.1 946.2 L2033.7 950.1 L2034.3 956.0 L2037.6 959.2 L2037.7 964.5 L2038.0 969.2 L2039.2 972.1 L2039.7 976.9 L2041.5 978.8 L2041.0 985.9 L2042.0 989.6 L2042.4 994.7 L2043.8 999.7 L2045.6 1004.4" fill="none" stroke="#0000ff" stroke-width="13.8" stroke-linejoin="bevel" stroke-linecap="butt" stroke-dasharray="43.45 9.85 21.73 9.85"/>
<path d="M2045.6 1004.4 L2045.6 1004.4 L2046.6 1008.3 L2047.2 1013.3 L2048.9 1015.5 L2049.6 1020.2 L2050.3 1024.7 L2051.3 1028.7 L2052.8 1031.8 L2053.8 1036.2 L2054.4 1041.5 L2054.9 1047.2 L2056.9 1048.8 L2057.9 1053.9 L2058.6 1059.4 L2059.4 1064.5 L2061.5 1066.0 L2062.4 1070.9 L2063.4 1075.5 L2066.5 1077.9 L2069.7 1080.3 L2073.1 1082.0 L2076.1 1079.0 L2079.7 1078.2 L2082.8 1075.5 L2085.6 1072.4 L2088.7 1069.9 L2090.9 1065.8 L2091.2 1071.2 L2092.2 1075.1 L2093.5 1078.3 L2094.0 1083.4 L2095.3 1086.4 L2095.7 1091.7 L2098.7 1094.4 L2101.8 1097.0 L2103.8 1101.4 L2106.5 1096.8 L2109.8 1093.0 L2113.5 1090.1 L2115.7 1094.4 L2117.8 1098.7 L2120.0 1103.0 L2121.9 1098.3 L2124.8 1094.8 L2127.4 1091.1 L2129.7 1086.8 L2130.5 1092.3 L2132.1 1095.3 L2133.2 1100.0 L2134.5 1104.0 L2136.0 1107.0" fill="none" stroke="#0000ff" stroke-width="13.8" stroke-linejoin="bevel" stroke-linecap="butt" stroke-dasharray="37.72 8.55 18.86 8.55"/>
<path d="M2136.0 1107.0 L2136.4 1107.8 L2137.6 1112.3 L2139.7 1115.9 L2142.4 1119.9 L2143.5 1125.3 L2145.6 1129.8 L2148.3 1132.9 L2148.0 1138.4 L2150.0 1142.1 L2153.0 1144.9 L2153.6 1149.7 L2155.2 1153.5 L2156.9 1157.2 L2157.6 1161.6 L2161.4 1162.1 L2164.3 1165.2 L2167.5 1167.6 L2169.4 1171.3 L2170.0 1175.9 L2172.2 1179.3 L2173.5 1183.5 L2176.6 1186.9 L2178.8 1191.4 L2181.4 1195.4 L2183.9 1199.6 L2186.4 1203.8 L2189.4 1207.4 L2192.5 1211.0 L2196.5 1213.0 L2199.3 1217.3 L2201.0 1220.9 L2202.1 1226.3 L2203.3 1231.2 L2207.9 1233.4 L2212.0 1237.0 L2215.3 1234.3 L2218.0 1230.3 L2221.2 1227.3 L2222.7 1231.2 L2224.3 1235.1 L2225.6 1239.2 L2227.1 1243.2 L2231.5 1241.1 L2236.0 1242.0 L2236.0 1249.5 L2238.3 1251.4 L2239.1 1257.1 L2240.5 1260.2 L2242.0 1262.8 L2242.1 1269.0 L2243.1 1273.3 L2244.7 1276.1 L2244.9 1282.5 L2245.5 1287.9 L2247.0 1290.9 L2250.1 1294.6 L2253.8 1297.2 L2257.0 1300.8 L2257.9 1305.2 L2260.0 1308.7 L2261.5 1312.7 L2262.9 1316.7 L2263.7 1320.7 L2264.7 1324.1 L2265.1 1329.1 L2266.7 1331.2 L2266.9 1336.6 L2268.8 1338.8 L2268.3 1346.7 L2269.9 1349.6" fill="none" stroke="#0000ff" stroke-width="13.8" stroke-linejoin="bevel" stroke-linecap="butt" stroke-dasharray="40.40 9.16 20.20 9.16"/>
<path d="M2269.9 1349.6 L2269.9 1349.6 L2270.9 1353.7 L2271.4 1359.1 L2271.9 1364.5 L2276.4 1367.0" fill="none" stroke="#0000ff" stroke-width="13.8" stroke-linejoin="bevel" stroke-linecap="butt" stroke-dasharray="46.10 10.45 23.05 10.45"/>
<path d="M242.0 1207.0 L245.4 1207.6 L247.1 1203.4 L249.3 1199.6 L250.8 1195.1 L252.6 1191.0 L254.6 1187.0 L255.4 1181.3 L257.0 1177.7 L258.9 1174.9 L259.8 1169.5 L260.8 1164.5 L261.9 1161.6 L262.1 1156.6 L262.8 1152.7 L263.3 1148.3 L263.8 1144.0 L263.8 1137.9 L265.9 1136.8 L266.5 1132.3 L267.3 1128.2 L267.9 1123.5 L269.2 1118.6 L271.3 1114.5 L274.1 1111.2 L274.5 1106.0 L275.5 1102.4 L276.7 1099.3 L277.4 1094.7 L278.2 1090.7 L281.0 1086.9 L283.0 1082.2 L286.0 1078.6 L288.4 1074.3 L290.1 1069.7 L291.5 1064.0 L291.5 1059.2 L293.0 1057.7 L292.5 1051.7 L293.8 1047.9 L295.2 1044.2 L295.3 1037.4 L296.3 1032.8 L297.7 1029.2 L298.4 1024.7 L299.3 1020.9 L300.6 1017.7 L301.2 1013.1 L301.7 1008.2 L302.8 1004.6 L303.1 998.9 L304.1 994.7 L305.7 992.1 L305.9 986.1 L306.0 981.0 L307.0 978.0 L307.6 974.0 L307.2 967.7 L308.4 965.2 L308.9 961.0 L313.7 960.2 L318.0 957.0 L322.4 955.7 L326.4 958.4 L330.1 960.7 L333.6 963.5 L337.4 965.5 L340.7 968.7 L342.3 964.8 L343.4 960.5 L344.1 955.9 L346.6 952.6 L347.9 948.4 L348.9 944.1 L353.2 942.5 L357.5 940.5 L361.2 936.9 L363.9 934.1 L366.4 930.8 L368.4 926.8 L371.5 924.6 L373.3 920.4 L374.3 915.6 L375.9 911.3 L377.1 906.7 L379.2 902.7 L380.3 898.3 L382.1 894.5 L384.5 891.2 L384.5 886.0 L387.0 882.7 L387.5 876.7 L389.6 874.7 L391.4 872.1 L392.2 866.8 L393.1 861.9 L393.2 855.2 L394.0 850.1 L396.4 849.3 L396.9 843.6 L398.3 840.1 L399.0 834.2 L401.2 832.3 L402.5 827.9 L403.3 822.2 L404.4 817.5 L405.4 813.3 L406.4 809.0 L407.8 805.8 L408.2 800.2 L408.8 794.9 L409.7 791.3 L410.4 787.2 L410.1 780.5 L412.2 779.7 L412.2 774.0 L413.4 770.4 L413.9 765.2 L413.3 757.6 L414.7 754.5 L415.7 750.5 L418.8 747.8 L420.7 742.8 L424.1 740.6 L427.0 737.4 L430.3 735.2 L432.3 730.7 L435.7 728.7 L439.9 727.4 L443.4 724.0 L447.0 720.9 L448.1 716.7 L449.6 713.3 L451.0 709.7 L451.9 705.1 L453.1 700.9 L454.7 697.8 L454.9 691.1 L456.0 686.8 L457.8 684.1 L458.3 678.3 L459.5 674.2 L460.3 668.9 L462.4 667.0 L463.9 663.5 L464.4 657.5 L465.2 652.4 L465.8 646.8 L467.5 643.8 L468.5 639.2 L469.6 634.9 L470.9 629.9 L473.2 627.5 L473.5 619.7 L476.0 618.0 L476.2 610.1 L478.3 607.1 L478.8 601.6 L480.3 598.8 L481.4 594.8 L482.2 590.0 L482.6 584.4 L483.3 580.3 L483.7 575.5 L484.2 571.0 L485.0 567.0 L485.2 561.8 L486.0 557.1 L487.1 553.1 L488.1 548.9 L488.7 543.7 L489.6 539.2 L491.0 536.0 L492.0 531.5 L493.7 529.2 L493.9 522.9 L494.8 518.3 L495.8 513.6 L497.1 509.5 L498.5 505.7 L500.1 502.8 L500.9 497.4 L505.2 495.4 L509.6 494.0 L510.7 490.5 L512.2 488.4 L511.0 479.1 L513.1 478.3 L514.9 473.2 L517.8 469.1 L520.0 464.4 L520.6 460.6 L520.9 456.1 L521.0 451.1 L521.9 448.0 L522.0 443.0 L525.9 445.6 L530.1 447.2 L534.0 450.0 L537.9 448.3 L540.1 443.6 L543.0 440.0 L543.0 434.9 L543.5 430.9 L543.7 426.2 L544.1 421.9 L544.4 417.4 L548.8 419.2 L551.3 424.4 L554.5 428.4 L559.0 428.3 L563.0 425.1 L567.5 425.2 L568.4 420.6 L569.9 417.3 L570.8 412.7 L572.1 408.9 L572.3 402.6 L574.9 398.2 L578.6 395.9 L581.9 392.7 L585.2 389.7 L588.6 387.5 L592.0 385.1 L594.9 381.6 L598.5 384.2 L599.3 390.2 L602.8 392.9 L604.6 397.7 L606.2 401.6 L609.1 404.1 L610.3 408.5 L611.8 412.5 L614.3 415.5 L616.9 411.1 L619.8 407.0 L622.4 402.6 L625.4 399.3 L627.9 395.1 L630.5 391.3 L633.1 387.4 L636.4 384.5 L638.8 380.3 L641.0 375.9 L643.1 371.5 L646.7 368.7 L647.2 362.7 L649.9 359.0 L652.5 356.0 L654.2 352.0 L656.6 348.7 L658.8 345.2 L661.5 341.5 L663.7 337.3 L666.3 333.5 L668.5 329.1 L670.0 324.3 L672.2 320.3 L675.4 317.2 L677.3 312.9 L680.4 315.8 L683.1 319.3 L685.4 323.4 L688.1 318.7 L692.3 316.7 L695.1 312.1 L698.6 314.8 L702.0 317.4 L706.3 317.4 L709.7 320.2 L713.7 323.0 L718.1 324.9 L721.6 329.3 L725.8 331.5 L727.9 328.1 L728.0 323.5 L730.4 320.4 L731.5 316.3 L732.3 312.1 L735.2 315.6 L738.7 318.1 L740.2 323.8 L743.6 326.6 L745.3 330.8 L747.1 334.8 L748.3 339.3 L749.9 343.5 L751.7 347.6 L753.0 352.3 L756.2 355.2 L757.2 360.3 L759.7 363.8 L763.7 366.7 L767.9 368.1 L772.4 368.0 L776.7 368.9 L780.8 371.1 L782.6 375.3 L785.3 378.6 L787.5 382.3 L789.2 386.7 L792.1 389.7 L796.4 391.1 L801.1 390.7 L805.0 394.5 L808.9 396.3 L813.0 397.2 L816.3 401.0 L818.9 405.5 L822.1 409.1 L825.2 412.9 L827.1 417.6 L828.5 422.6 L832.6 425.0 L836.6 427.5 L838.2 431.9 L840.6 435.6 L842.0 440.2 L844.6 443.6 L848.9 445.7 L853.0 448.9 L857.6 450.1 L860.9 446.6 L863.6 442.3 L865.6 437.2 L870.5 436.5 L875.3 438.1 L880.2 437.2 L884.7 436.4 L888.9 438.3 L893.1 440.4 L894.7 442.3 L893.9 450.0 L895.6 451.6 L895.7 457.2 L896.3 461.4 L900.1 463.4 L903.8 465.7 L907.6 467.9 L910.0 471.4 L911.8 475.5 L914.1 479.2 L914.9 483.8 L917.3 487.0 L918.7 491.0 L920.1 495.1 L922.2 498.6 L922.9 503.1 L924.1 506.5 L924.4 512.0 L924.2 518.5 L925.4 522.0 L927.9 525.0 L929.2 529.2 L930.3 533.6 L932.2 537.2 L934.3 540.6 L935.6 545.1 L936.5 550.7 L938.1 554.4 L940.1 557.2 L940.8 563.2 L942.8 565.4 L943.7 570.8 L944.2 577.0 L946.2 579.3 L947.2 584.2 L948.5 587.7 L949.2 592.3 L950.4 596.0 L950.5 602.1 L951.3 606.8 L952.8 609.6 L953.0 615.6 L955.3 616.5 L955.0 624.0 L956.1 627.8 L959.2 631.3 L962.5 634.4 L964.6 639.4 L965.6 644.8 L967.3 648.1 L969.6 650.1 L970.2 656.4 L971.1 662.0 L975.5 663.9 L980.1 664.8 L984.3 667.6 L988.9 668.5 L989.2 673.6 L989.9 677.7 L990.7 681.5 L990.8 686.8 L992.1 689.5 L996.0 688.5 L999.7 686.6 L1003.4 684.6 L1008.0 683.7 L1011.9 687.7 L1016.3 687.9 L1019.7 691.2 L1023.9 691.9 L1027.6 694.3 L1031.5 691.5 L1035.7 689.5 L1035.7 696.7 L1038.5 697.1 L1038.4 704.6 L1038.4 711.8 L1040.6 713.7 L1044.1 715.4 L1046.8 719.1 L1049.7 722.5 L1053.5 723.4 L1055.2 727.9 L1056.5 732.6 L1057.9 737.3 L1060.4 741.2 L1061.6 746.0 L1065.3 748.8 L1068.8 751.9 L1072.2 755.1 L1076.1 757.3 L1077.1 761.8 L1078.2 766.1 L1079.5 769.7 L1080.2 775.0 L1081.0 780.0 L1081.5 785.6 L1082.9 789.2 L1084.3 792.5 L1085.3 797.1 L1085.8 802.6 L1086.6 807.8 L1089.3 811.2 L1091.6 815.0 L1093.9 818.7 L1096.3 813.9 L1100.6 813.5 L1103.7 810.6 L1106.8 807.4 L1112.0 809.0 L1111.4 815.3 L1112.3 818.5 L1112.8 822.5 L1112.8 827.7 L1113.3 831.7 L1116.6 835.2 L1117.7 841.0 L1120.4 845.1 L1123.0 849.4 L1125.7 852.2 L1127.3 856.7 L1129.5 860.2 L1132.7 862.4 L1133.7 858.0 L1135.6 854.4 L1137.7 850.9 L1139.3 847.0 L1140.8 843.0 L1145.0 841.0 L1149.2 838.8 L1153.7 838.1 L1155.7 842.7 L1159.0 845.3 L1162.6 847.1 L1165.0 851.1 L1169.2 847.4 L1174.0 846.0 L1175.4 843.1 L1175.6 837.5 L1176.6 833.6 L1176.3 826.8 L1179.8 824.1 L1182.4 819.7 L1186.1 817.3 L1189.2 813.9 L1190.9 815.6 L1190.9 821.4 L1191.2 826.4 L1191.6 831.3 L1192.5 834.9 L1197.2 832.6 L1202.1 831.5 L1207.0 830.0 L1211.5 829.7 L1215.9 828.8 L1220.4 828.2 L1224.8 826.8 L1226.1 822.2 L1227.0 816.7 L1228.8 813.2 L1229.6 807.4 L1231.8 803.7 L1234.0 800.0 L1236.6 803.1 L1238.7 806.8 L1240.7 810.7 L1242.9 814.3 L1244.1 810.4 L1245.6 806.6 L1246.8 802.7 L1248.2 798.8 L1249.4 794.9 L1250.6 790.2 L1251.4 784.3 L1253.5 781.9 L1255.1 778.2 L1255.9 772.3 L1259.0 774.8 L1262.4 776.4 L1265.5 778.7 L1269.3 777.1 L1272.6 773.9 L1276.0 771.0 L1280.1 770.7 L1281.8 766.3 L1282.9 761.5 L1285.3 757.6 L1286.6 752.9 L1288.5 748.7 L1290.3 744.2 L1293.4 741.4 L1296.2 738.3 L1298.3 742.5 L1301.7 744.5 L1304.3 748.0 L1304.6 742.1 L1305.9 738.7 L1307.5 736.0 L1308.5 731.8 L1309.2 727.0 L1312.1 723.1 L1315.5 719.8 L1318.0 715.3 L1320.5 710.9 L1322.1 707.2 L1324.0 703.8 L1326.1 700.6 L1326.9 696.3 L1327.7 701.8 L1329.0 706.0 L1331.3 707.5 L1332.2 712.9 L1333.4 717.3 L1334.7 721.8 L1336.8 725.6 L1337.8 730.3 L1339.6 734.3 L1341.5 738.3 L1342.7 742.8 L1344.8 746.6 L1345.2 751.8 L1347.4 755.5 L1349.6 759.3 L1353.2 757.5 L1356.9 756.2 L1361.0 756.9 L1364.1 752.9 L1365.2 748.9 L1367.1 745.4 L1368.5 741.6 L1369.3 737.4 L1370.6 733.5 L1373.5 730.4 L1377.1 729.3 L1380.3 727.0 L1385.1 729.8 L1390.0 731.9 L1394.4 729.3 L1398.0 725.0 L1400.9 729.4 L1404.5 732.8 L1407.7 736.7 L1408.8 732.8 L1409.3 727.6 L1409.8 722.4 L1410.4 717.4 L1411.0 712.5 L1414.8 715.0 L1418.3 718.5 L1422.3 720.6 L1424.0 716.3 L1426.3 712.8 L1428.7 709.3 L1430.3 705.3 L1431.3 700.7 L1433.4 697.0 L1435.2 693.1 L1435.9 688.5 L1438.1 685.3 L1440.0 681.8 L1445.0 679.9 L1449.7 676.9 L1451.1 680.8 L1453.0 684.2 L1454.7 687.8 L1456.2 691.5 L1460.0 693.7 L1462.7 698.0 L1465.2 694.4 L1466.2 689.7 L1468.1 685.7 L1468.8 680.8 L1470.8 676.9 L1474.5 673.6 L1477.7 669.1 L1482.1 667.3 L1486.4 668.1 L1490.7 668.2 L1495.0 667.3 L1495.7 662.2 L1498.2 658.4 L1500.1 654.2 L1501.4 649.5 L1502.2 644.7 L1503.8 640.4 L1505.8 636.5 L1507.6 632.5 L1509.5 628.5 L1510.5 623.9 L1512.8 620.4 L1514.5 616.4 L1516.0 612.3 L1520.4 611.8 L1524.7 610.8 L1528.9 609.1 L1532.1 607.5 L1534.7 604.5 L1537.0 601.0 L1538.4 596.0 L1540.8 591.9 L1542.6 587.2 L1545.1 583.2 L1546.7 579.1 L1549.2 576.0 L1551.3 572.5 L1553.7 575.7 L1556.0 579.2 L1559.2 581.2 L1561.0 585.4 L1564.6 584.5 L1568.0 586.0 L1569.9 590.7 L1571.8 595.3 L1573.8 600.0 L1575.5 604.8 L1576.3 609.1 L1577.4 612.7 L1577.4 618.8 L1578.4 622.8 L1579.3 626.8 L1581.1 630.6 L1583.2 634.2 L1584.8 638.2 L1587.7 641.0 L1588.3 646.0 L1590.3 649.7 L1591.3 655.9 L1592.8 660.8 L1596.2 656.9 L1600.5 655.6 L1604.2 652.8 L1606.4 657.1 L1609.3 660.7 L1611.1 665.4 L1613.2 669.8 L1615.3 666.0 L1617.9 662.9 L1620.3 659.4 L1622.3 655.4 L1624.2 651.4 L1626.8 648.3 L1629.0 644.8 L1631.3 641.5 L1633.9 638.5 L1636.0 634.9 L1638.1 631.3 L1639.1 626.8 L1640.2 622.2 L1642.1 618.2 L1643.3 613.8 L1645.0 609.7 L1646.9 605.1 L1649.8 601.5 L1652.1 597.3 L1654.7 593.5 L1657.1 597.6 L1659.3 601.9 L1662.2 605.4 L1664.4 609.7 L1666.8 614.6 L1670.9 616.1 L1671.6 620.4 L1671.5 626.6 L1672.6 630.2 L1673.2 634.7 L1675.0 638.7 L1678.7 640.2 L1680.4 644.5 L1682.2 648.4 L1684.6 651.7 L1686.0 656.4 L1686.9 661.6 L1689.5 665.4 L1691.4 669.8 L1693.5 675.0 L1696.3 679.3 L1699.3 683.4 L1700.4 680.4 L1700.9 675.8 L1701.3 671.0 L1702.3 667.7 L1702.7 663.0 L1706.1 660.0 L1710.2 659.9 L1713.3 656.0 L1717.2 655.1 L1720.8 652.8 L1724.3 657.5 L1729.2 658.7 L1733.3 661.9 L1737.1 658.9 L1741.2 656.7 L1744.6 652.8 L1746.8 649.4 L1749.0 646.0 L1753.3 646.0 L1757.4 647.8 L1761.6 648.3 L1763.9 652.3 L1766.4 656.1 L1769.6 658.9 L1771.8 663.0 L1774.6 659.8 L1776.5 655.8 L1777.7 651.2 L1779.7 647.2 L1780.9 643.5 L1781.7 638.5 L1783.7 636.7 L1783.8 630.0 L1785.3 626.8 L1786.6 622.9 L1787.1 616.8 L1788.0 611.8 L1789.7 608.8 L1790.4 603.2 L1792.6 599.5 L1793.6 594.8 L1794.9 590.4 L1797.3 586.7 L1798.5 582.2 L1800.1 578.0 L1801.9 573.9 L1804.1 570.1 L1805.5 565.8 L1806.6 561.2 L1808.8 564.5 L1809.5 569.4 L1812.4 571.9 L1814.0 575.8 L1816.3 579.0 L1819.0 583.1 L1821.2 587.8 L1824.3 591.4 L1826.0 596.7 L1826.8 601.4 L1828.6 605.3 L1831.4 608.4 L1832.5 612.9 L1835.2 608.2 L1838.4 604.3 L1842.2 601.6 L1845.0 598.3 L1846.5 593.6 L1849.0 589.9 L1851.1 585.9 L1853.5 582.2 L1855.2 586.4 L1857.2 590.2 L1858.3 594.8 L1860.6 598.5 L1861.5 603.2 L1864.3 606.7 L1866.8 610.4 L1869.7 613.7 L1871.2 610.1 L1872.2 605.0 L1873.2 599.9 L1875.0 597.1 L1876.2 592.7 L1880.5 592.2 L1884.8 594.3 L1889.1 592.7 L1890.8 597.5 L1893.2 601.6 L1895.4 605.9 L1897.2 610.5 L1898.5 605.4 L1900.0 600.5 L1902.0 595.9 L1903.8 591.9 L1906.0 588.3 L1908.1 584.6 L1910.0 580.7 L1911.7 576.6 L1914.7 573.0 L1915.4 567.4 L1917.8 563.3 L1919.8 558.8 L1924.0 557.5 L1925.6 551.0 L1929.5 549.1 L1931.3 553.8 L1932.6 558.8 L1934.3 563.6 L1935.2 568.0 L1936.1 572.5 L1937.4 575.9 L1938.0 580.8 L1939.2 584.6 L1944.1 582.2 L1948.9 579.8 L1952.7 578.9 L1955.8 574.8 L1959.6 574.1 L1963.4 573.3 L1965.0 577.5 L1967.1 581.3 L1968.7 585.5 L1969.6 590.3 L1971.5 594.3 L1972.8 597.7 L1973.1 603.5 L1974.0 607.8 L1975.2 611.5 L1976.3 615.3 L1977.5 619.7 L1979.3 623.7 L1981.3 627.4 L1982.2 632.1 L1983.6 636.3 L1984.8 640.6 L1986.8 644.5 L1988.0 648.9 L1989.1 653.3 L1990.9 657.3 L1992.6 660.7 L1993.2 667.2 L1993.8 673.3 L1996.3 674.8 L1997.3 680.0 L2001.1 679.6 L2004.9 678.7 L2008.7 678.3 L2011.8 674.6 L2013.6 669.6 L2016.3 665.5 L2018.3 660.6 L2020.7 656.9 L2023.7 654.1 L2026.4 650.9 L2029.2 654.9 L2032.8 657.9 L2034.3 663.8 L2037.7 667.0 L2039.4 663.3 L2039.3 655.1 L2041.7 653.4 L2042.6 647.6 L2047.5 649.1 L2052.2 651.3 L2057.1 652.5 L2058.6 648.7 L2059.0 644.3 L2060.9 640.8 L2063.0 637.5 L2063.6 633.1 L2065.5 636.5 L2067.3 639.9 L2069.0 643.4 L2070.0 647.6 L2073.7 650.0 L2076.3 654.3 L2079.7 657.3 L2081.3 661.8 L2084.1 664.7 L2086.4 668.1 L2087.9 672.7 L2091.1 675.1 L2095.0 676.3 L2098.8 677.7 L2102.4 680.0 L2105.0 683.6 L2107.8 686.8 L2111.3 689.0 L2113.7 692.9 L2117.2 689.7 L2121.3 688.8 L2125.0 686.4 L2129.0 688.6 L2133.3 689.3 L2137.1 692.3 L2141.1 694.5 L2146.0 695.6 L2150.8 697.7 L2152.0 694.3 L2152.7 689.7 L2153.7 685.8 L2154.5 681.5 L2155.7 678.0 L2159.2 681.6 L2162.8 684.7 L2167.0 686.4 L2170.5 682.9 L2174.2 680.0 L2174.6 685.6 L2176.2 688.3 L2176.6 693.9 L2177.1 699.4 L2178.3 703.1 L2180.1 707.4 L2183.3 709.7 L2185.5 713.3 L2187.9 716.7 L2190.6 719.9 L2193.9 721.9 L2196.1 725.9 L2198.8 729.0 L2200.7 732.6 L2201.8 736.9 L2204.1 740.2 L2206.1 743.8 L2206.8 748.4 L2208.4 752.3 L2211.0 748.3 L2213.1 743.8 L2216.2 740.5 L2218.1 735.8 L2220.7 731.8 L2223.4 735.2 L2225.3 739.6 L2228.6 742.2 L2230.3 746.8 L2232.0 750.5 L2233.0 754.7 L2233.9 758.9 L2235.7 762.6 L2238.1 759.1 L2240.7 755.9 L2242.8 752.0 L2245.7 749.1 L2248.0 745.5 L2250.8 742.5 L2251.8 737.6 L2255.2 735.3 L2256.2 730.4 L2258.0 725.8 L2260.3 721.9 L2262.4 717.6 L2264.4 713.3 L2265.6 718.3 L2268.4 722.1 L2270.6 726.4 L2271.3 731.8 L2276.7 733.1" fill="none" stroke="#000000" stroke-width="13.8" stroke-linejoin="bevel" stroke-linecap="butt" stroke-dasharray="11.6 10"/>
<text class="tk" transform="translate(216 78.2) scale(1 1.035)" text-anchor="end">1.1</text>
<text class="tk" transform="translate(216 270.8) scale(1 1.035)" text-anchor="end">1</text>
<text class="tk" transform="translate(216 463.4) scale(1 1.035)" text-anchor="end">0.9</text>
<text class="tk" transform="translate(216 656.0) scale(1 1.035)" text-anchor="end">0.8</text>
<text class="tk" transform="translate(216 848.7) scale(1 1.035)" text-anchor="end">0.7</text>
<text class="tk" transform="translate(216 1041.3) scale(1 1.035)" text-anchor="end">0.6</text>
<text class="tk" transform="translate(216 1233.9) scale(1 1.035)" text-anchor="end">0.5</text>
<text class="tk" transform="translate(216 1426.5) scale(1 1.035)" text-anchor="end">0.4</text>
<text class="tk" transform="translate(240.5 1494.3) scale(1 1.035)" text-anchor="middle">0</text>
<text class="tk" transform="translate(647.4 1494.3) scale(1 1.035)" text-anchor="middle">1</text>
<text class="tk" transform="translate(1054.3 1494.3) scale(1 1.035)" text-anchor="middle">2</text>
<text class="tk" transform="translate(1461.2 1494.3) scale(1 1.035)" text-anchor="middle">3</text>
<text class="tk" transform="translate(1868.1 1494.3) scale(1 1.035)" text-anchor="middle">4</text>
<text class="tk" transform="translate(2275.0 1494.3) scale(1 1.035)" text-anchor="middle">5</text>
<text class="lb" transform="translate(1112.4 1584) scale(1.05 1)" stroke="#262626" stroke-width="0.9" x="0 55.7 77.9 142.7">Time</text> <text class="lb" transform="translate(1334 1591) scale(0.555 1.17)" stroke="#262626" stroke-width="0.9">[</text><text class="lb" transform="translate(1349.2 1584) scale(1.037 1)" stroke="#262626" stroke-width="0.9">s</text><text class="lb" transform="translate(1382.6 1591) scale(0.555 1.17)" stroke="#262626" stroke-width="0.9">]</text>
<g transform="translate(80 875.5) rotate(-90)"><text class="lb" transform="translate(0 0) scale(1.14 1.03)" stroke="#262626" stroke-width="0.9">State</text> <text class="lb" transform="translate(220.8 0) scale(1.0 1)" stroke="#262626" stroke-width="0.9" font-style="italic">x</text><text class="lb" transform="translate(263.7 11.4) scale(1 1)" stroke="#262626" stroke-width="0.7200000000000001" style="font-size:58px">1</text></g>
<rect x="1568.6" y="90.6" width="669.0" height="249.6" fill="#fff" stroke="#262626" stroke-width="3"/>
<path d="M1583.9 136.1 H1735.0" stroke="#ff0000" stroke-width="13.8" fill="none"/>
<path d="M1583.9 215 H1735.0" stroke="#0000ff" stroke-width="13.8" fill="none" stroke-dasharray="46.1 10.45 23.05 10.45"/>
<path d="M1583.9 294 H1735.0" stroke="#000000" stroke-width="13.8" fill="none" stroke-dasharray="12 10.5"/>
<text class="lg" x="1745" y="159.3" textLength="450" lengthAdjust="spacing">Koopman model</text>
<text class="lg" x="1745" y="238.7" textLength="475.5" lengthAdjust="spacing">state space model</text>
<text class="lg" x="1745" y="316.5" textLength="460" lengthAdjust="spacing">nonlinear system</text>
</svg></body></html>
